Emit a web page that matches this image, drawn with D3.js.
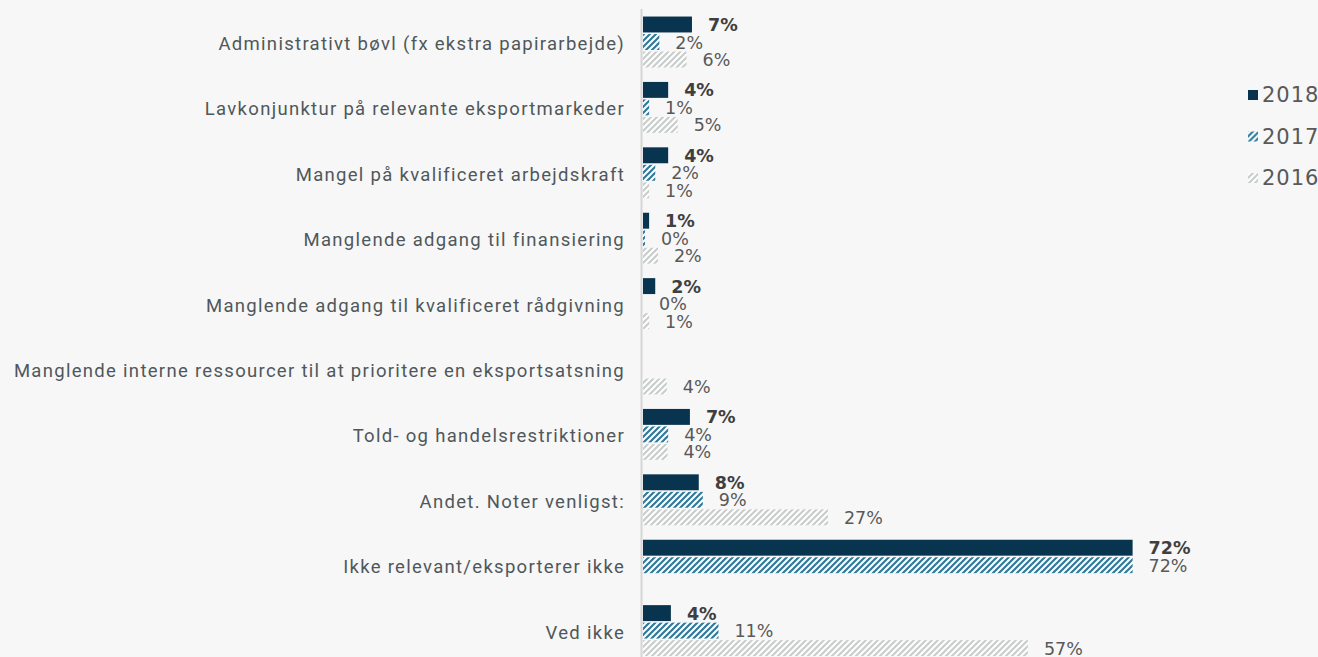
<!DOCTYPE html>
<html><head><meta charset="utf-8">
<script src="https://cdn.jsdelivr.net/npm/d3@7"></script>
<style>
html,body{margin:0;padding:0;background:#f7f7f7;}
svg{display:block;}
</style></head>
<body>
<script>
const categories = [
  "Administrativt bøvl (fx ekstra papirarbejde)",
  "Lavkonjunktur på relevante eksportmarkeder",
  "Mangel på kvalificeret arbejdskraft",
  "Manglende adgang til finansiering",
  "Manglende adgang til kvalificeret rådgivning",
  "Manglende interne ressourcer til at prioritere en eksportsatsning",
  "Told- og handelsrestriktioner",
  "Andet. Noter venligst:",
  "Ikke relevant/eksporterer ikke",
  "Ved ikke"
];
const seriesNames = ["2018", "2017", "2016"];
const values2018 = [7.2, 3.7, 3.7, 0.9, 1.8, null, 6.9, 8.2, 72, 4.1];
const values2017 = [2.4, 0.9, 1.8, 0.3, 0.0, null, 3.7, 8.8, 72, 11.1];
const values2016 = [6.4, 5.1, 0.9, 2.2, 0.9, 3.5, 3.6, 27.2, null, 56.6];

const W = 1318, H = 657;
const svg = d3.select("body").append("svg").attr("width", W).attr("height", H);
svg.append("rect").attr("width", W).attr("height", H).attr("fill", "#f7f7f7");

const defs = svg.append("defs");
function hatch(id, color) {
  const p = defs.append("pattern").attr("id", id).attr("patternUnits", "userSpaceOnUse")
    .attr("width", 6).attr("height", 6);
  p.append("rect").attr("width", 6).attr("height", 6).attr("fill", "#ffffff");
  p.append("path").attr("d", "M0,6 L6,0 M-1.5,1.5 L1.5,-1.5 M4.5,7.5 L7.5,4.5")
    .attr("stroke", color).attr("stroke-width", 2.2).attr("stroke-linecap", "square");
}
hatch("h2017", "#2f7a9c");
hatch("h2016", "#c8cecc");
const fills = {"2018": "#08344f", "2017": "url(#h2017)", "2016": "url(#h2016)"};

const series = [
  {name: "2018", values: values2018},
  {name: "2017", values: values2017},
  {name: "2016", values: values2016}
];

const y = d3.scaleBand().domain(categories).range([9.3, 663.3]).padding(0);
const step = y.bandwidth();
const inner = d3.scaleBand().domain(seriesNames)
  .range([step / 2 - 26.25, step / 2 + 26.25]).paddingInner(0.09).paddingOuter(0.045);
const x = d3.scaleLinear().domain([0, 100]).range([643, 643 + 680]);

// axis line
svg.append("line").attr("x1", 641.5).attr("x2", 641.5).attr("y1", 9).attr("y2", H)
  .attr("stroke", "#d6d6d6").attr("stroke-width", 2);

// category labels
svg.append("g").selectAll("text").data(categories).join("text")
  .attr("x", 625).attr("y", d => y(d) + step / 2 + 2)
  .attr("text-anchor", "end").attr("dominant-baseline", "central")
  .attr("font-family", "Roboto, 'DejaVu Sans', sans-serif").attr("font-size", 18.5)
  .attr("letter-spacing", "1.3px")
  .attr("fill", "#50575b").text(d => d);

const groups = svg.append("g").selectAll("g").data(series).join("g");
groups.each(function(s) {
  const g = d3.select(this);
  const items = categories.map((c, i) => ({c, v: s.values[i]})).filter(d => d.v !== null);
  g.selectAll("rect").data(items).join("rect")
    .attr("x", x(0)).attr("y", d => y(d.c) + inner(s.name))
    .attr("width", d => x(d.v) - x(0)).attr("height", inner.bandwidth())
    .attr("fill", fills[s.name]);
  g.selectAll("text").data(items).join("text")
    .attr("x", d => x(d.v) + 16).attr("y", d => y(d.c) + inner(s.name) + inner.bandwidth() / 2 + 0.5)
    .attr("dominant-baseline", "central")
    .attr("font-family", "'DejaVu Sans', sans-serif").attr("font-size", 17.5)
    .attr("font-weight", s.name === "2018" ? "bold" : "normal")
    .attr("fill", s.name === "2018" ? "#3f3f3f" : "#595959")
    .text(d => Math.round(d.v) + "%");
});

// legend
const legendY = d3.scalePoint().domain(seriesNames).range([95, 178]);
const lg = svg.append("g").selectAll("g").data(seriesNames).join("g")
  .attr("transform", d => `translate(1248,${legendY(d)})`);
lg.append("rect").attr("x", 0).attr("y", -5).attr("width", 10).attr("height", 10)
  .attr("fill", d => fills[d]);
lg.append("text").attr("x", 14).attr("y", 0).attr("dominant-baseline", "central")
  .attr("font-family", "'DejaVu Sans', sans-serif").attr("font-size", 21)
  .attr("letter-spacing", "1px")
  .attr("fill", "#595959").text(d => d);
</script>
</body></html>
